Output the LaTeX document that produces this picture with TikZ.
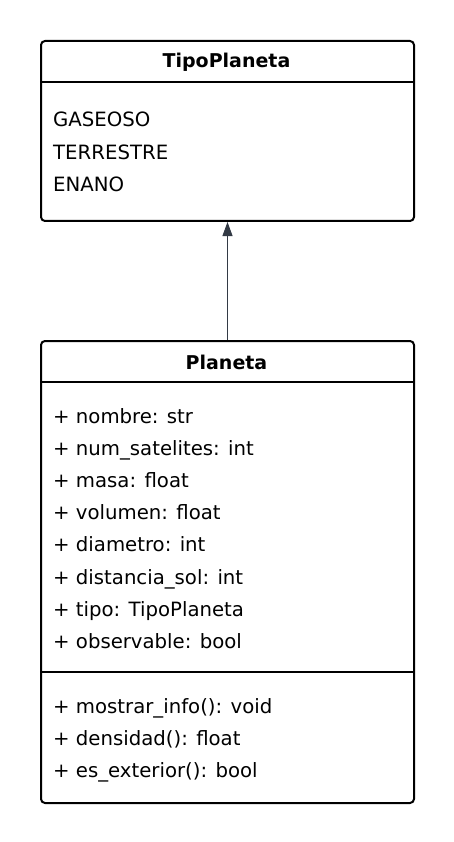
\documentclass[tikz,border=0pt]{standalone}
\usepackage{fontspec}
\setmainfont{DejaVu Sans}
\usetikzlibrary{arrows.meta}
\definecolor{linkc}{HTML}{333A45}
\tikzset{
  classbox/.style={draw=black, line width=2pt, rounded corners=4pt, fill=white,
    anchor=north west, minimum width=373pt, inner sep=0pt},
  member/.style={anchor=base west, inner sep=0pt, font=\fontsize{19.7}{23}\selectfont},
  ctitle/.style={anchor=center, inner sep=0pt, font=\fontsize{19}{23}\selectfont\bfseries},
  sep/.style={draw=black, line width=2pt},
  link/.style={draw=linkc, line width=1pt, -{Triangle[length=14pt,width=10pt]}}
}
\begin{document}
\begin{tikzpicture}[x=1pt,y=-1pt]
\useasboundingbox (0,0) rectangle (454,842);
% TipoPlaneta
\node[classbox, minimum height=180pt] (tipo) at (40,40) {};
\node[ctitle] (tipoT) at (226.5,62) {TipoPlaneta};
\coordinate (tsl) at (40,82); \coordinate (tsr) at (413,82);
\draw[sep] (tsl) -- (tsr);
\node[member] (e1) at (53,127) {GASEOSO};
\node[member] (e2) at (53,159.5) {TERRESTRE};
\node[member] (e3) at (53,192) {ENANO};
% Planeta
\node[classbox, minimum height=462pt] (plan) at (40,340) {};
\node[ctitle] (planT) at (226.5,362) {Planeta};
\coordinate (psl) at (40,382); \coordinate (psr) at (413,382);
\draw[sep] (psl) -- (psr);
\node[member] (a1) at (53,423) {+ nombre: str};
\node[member] (a2) at (53,455.2) {+ num\_satelites: int};
\node[member] (a3) at (53,487.4) {+ masa: float};
\node[member] (a4) at (53,519.6) {+ volumen: float};
\node[member] (a5) at (53,551.8) {+ diametro: int};
\node[member] (a6) at (53,584) {+ distancia\_sol: int};
\node[member] (a7) at (53,616.2) {+ tipo: TipoPlaneta};
\node[member] (a8) at (53,648.4) {+ observable: bool};
\coordinate (msl) at (40,672); \coordinate (msr) at (413,672);
\draw[sep] (msl) -- (msr);
\node[member] (m1) at (53,713) {+ mostrar\_info(): void};
\node[member] (m2) at (53,745) {+ densidad(): float};
\node[member] (m3) at (53,777) {+ es\_exterior(): bool};
% link
\draw[link] (plan.north) -- (tipo.south);
\end{tikzpicture}
\end{document}
